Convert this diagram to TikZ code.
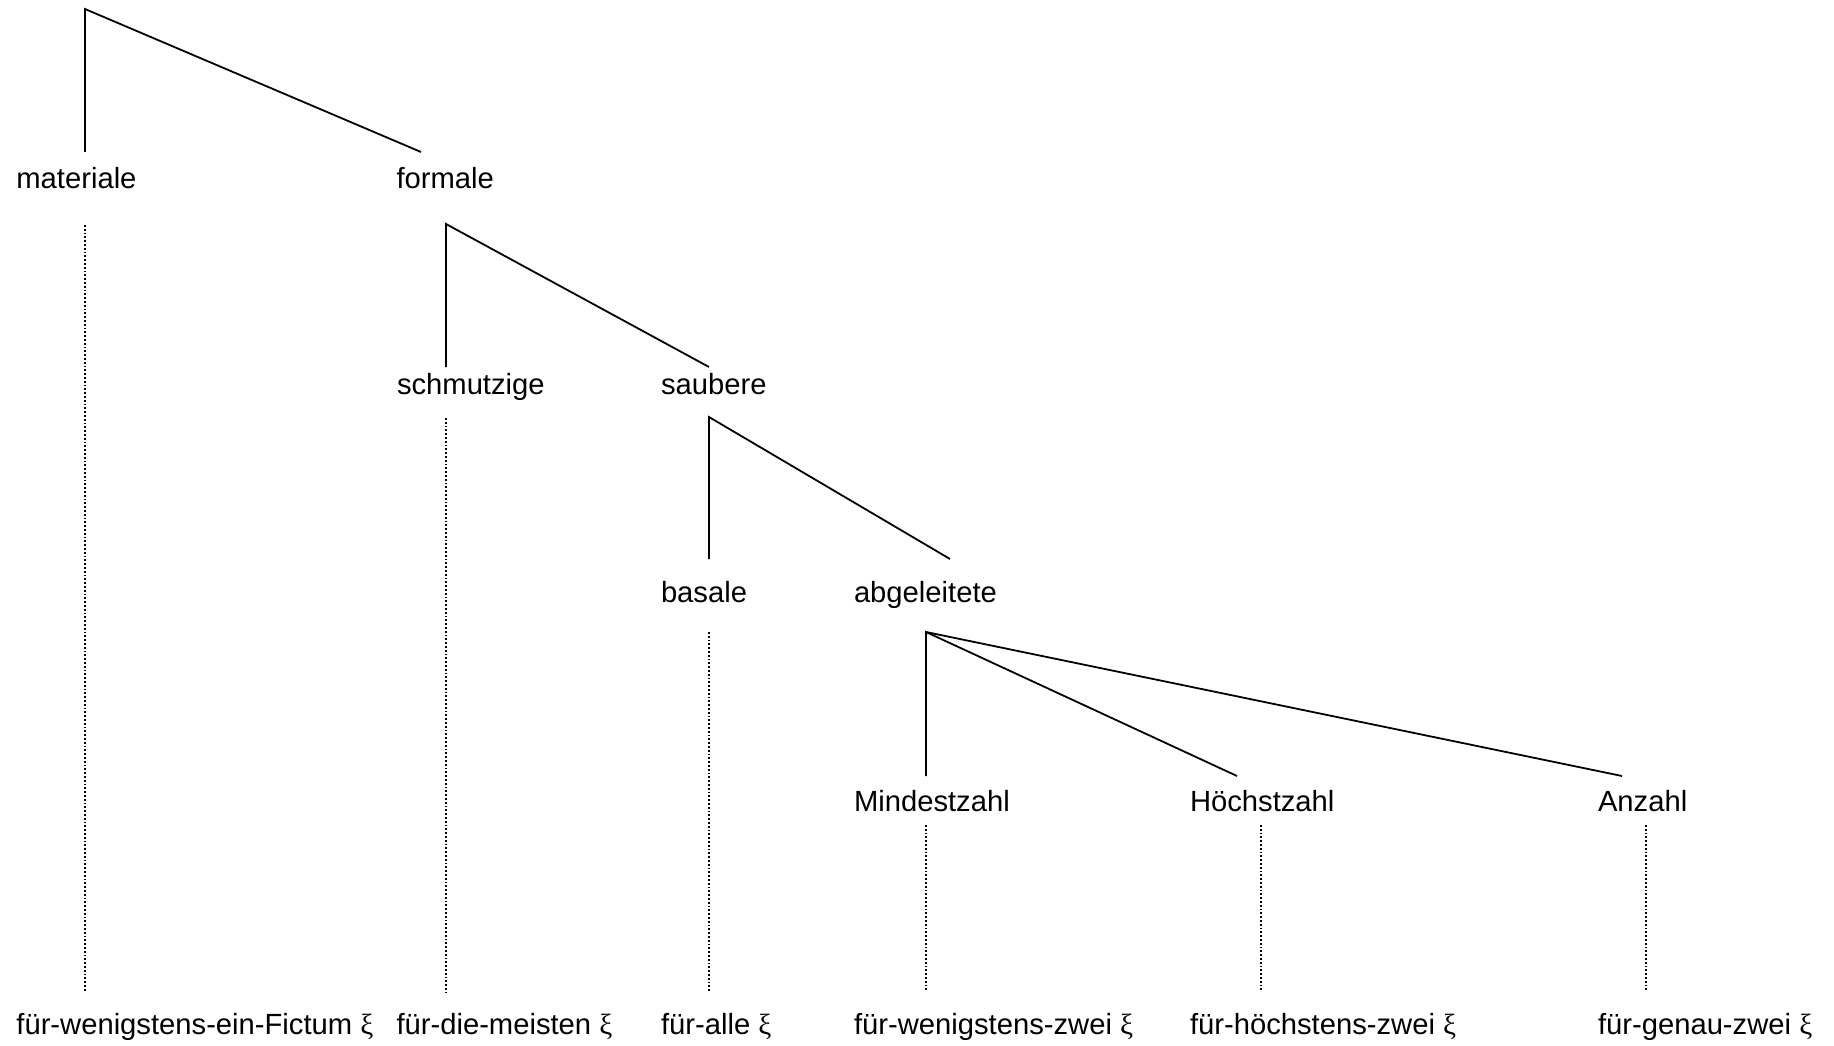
\documentclass[tikz,border=0pt]{standalone}
\usepackage{fontspec}
\setmainfont{Liberation Sans}
\newfontfamily\xifont{Liberation Serif}
\newcommand{\xisym}{{\xifont ξ}}
\begin{document}
\begin{tikzpicture}[x=1pt,y=-1pt,
  lbl/.style={anchor=base west,inner sep=0pt,outer sep=0pt,font=\fontsize{29.2pt}{35pt}\selectfont},
  branch/.style={line width=1.8pt,line cap=butt,line join=miter},
  trace/.style={line width=1.6pt,dash pattern=on 1.8pt off 2pt}]
\useasboundingbox (0,0) rectangle (1834,1046);
% labels
\node[lbl] (materiale) at (16.4,188) {materiale};
\node[lbl] (formale) at (396.5,188) {formale};
\node[lbl] (schmutzige) at (397,394) {schmutzige};
\node[lbl] (saubere) at (661,394) {saubere};
\node[lbl] (basale) at (661,602) {basale};
\node[lbl] (abgeleitete) at (854,602) {abgeleitete};
\node[lbl] (mindest) at (854,811) {Mindestzahl};
\node[lbl] (hoechst) at (1190,811) {Höchstzahl};
\node[lbl] (anzahl) at (1598,811) {Anzahl};
\node[lbl] (q1) at (16.4,1034) {für-wenigstens-ein-Fictum \xisym};
\node[lbl] (q2) at (396.5,1034) {für-die-meisten \xisym};
\node[lbl] (q3) at (661,1034) {für-alle \xisym};
\node[lbl] (q4) at (854,1034) {für-wenigstens-zwei \xisym};
\node[lbl] (q5) at (1190,1034) {für-höchstens-zwei \xisym};
\node[lbl] (q6) at (1598,1034) {für-genau-zwei \xisym};
% branching points and line ends
\coordinate (root) at (85,9);
\coordinate (materiale-in) at (85,152);
\coordinate (formale-in) at (421,152);
\coordinate (formale-out) at (446,224);
\coordinate (schmutzige-in) at (446,367);
\coordinate (saubere-in) at (709,367);
\coordinate (saubere-out) at (709,417);
\coordinate (basale-in) at (709,559);
\coordinate (abgeleitete-in) at (950,559);
\coordinate (abgeleitete-out) at (926,632);
\coordinate (mindest-in) at (926,776);
\coordinate (hoechst-in) at (1237,776);
\coordinate (anzahl-in) at (1622,776);
% trace ends
\coordinate (materiale-out) at (85,225);
\coordinate (schmutzige-out) at (446,418);
\coordinate (basale-out) at (709,632);
\coordinate (mindest-out) at (926,825);
\coordinate (hoechst-out) at (1261,825);
\coordinate (anzahl-out) at (1646,825);
\coordinate (q1-in) at (85,992);
\coordinate (q2-in) at (446,992);
\coordinate (q3-in) at (709,992);
\coordinate (q4-in) at (926,992);
\coordinate (q5-in) at (1261,992);
\coordinate (q6-in) at (1646,992);
% branches
\draw[branch] (materiale-in) -- (root) -- (formale-in);
\draw[branch] (schmutzige-in) -- (formale-out) -- (saubere-in);
\draw[branch] (basale-in) -- (saubere-out) -- (abgeleitete-in);
\draw[branch] (mindest-in) -- (abgeleitete-out) -- (hoechst-in);
\draw[branch] (abgeleitete-out) -- (anzahl-in);
% traces
\draw[trace] (materiale-out) -- (q1-in);
\draw[trace] (schmutzige-out) -- (q2-in);
\draw[trace] (basale-out) -- (q3-in);
\draw[trace] (mindest-out) -- (q4-in);
\draw[trace] (hoechst-out) -- (q5-in);
\draw[trace] (anzahl-out) -- (q6-in);
\end{tikzpicture}
\end{document}
